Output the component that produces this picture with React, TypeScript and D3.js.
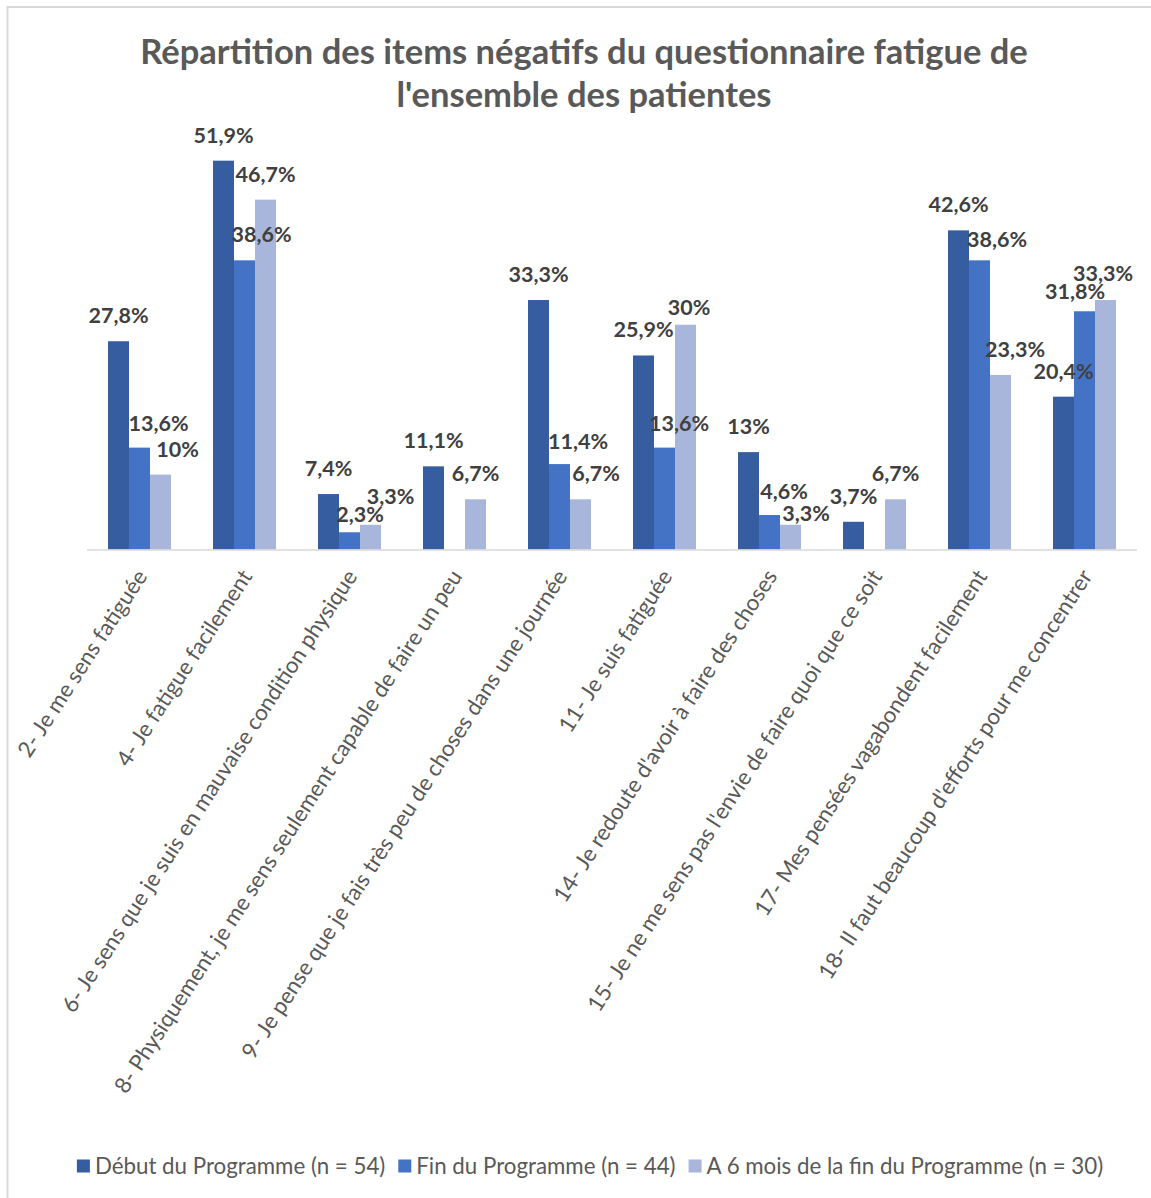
import React, { useEffect, useRef } from "react";
import * as d3 from "d3";

const titleLines = [
  "Répartition des items négatifs du questionnaire fatigue de",
  "l'ensemble des patientes",
];

const categories = [
  "2- Je me sens fatiguée",
  "4- Je fatigue facilement",
  "6- Je sens que je suis en mauvaise condition physique",
  "8- Physiquement, je me sens seulement capable de faire un peu",
  "9- Je pense que je fais très peu de choses dans une journée",
  "11- Je suis fatiguée",
  "14- Je redoute d'avoir à faire des choses",
  "15- Je ne me sens pas l'envie de faire quoi que ce soit",
  "17- Mes pensées vagabondent facilement",
  "18- Il faut beaucoup d'efforts pour me concentrer",
];

const seriesNames = [
  "Début du Programme (n = 54)",
  "Fin du Programme (n = 44)",
  "A 6 mois de la fin du Programme (n = 30)",
];

const debut = [27.8, 51.9, 7.4, 11.1, 33.3, 25.9, 13, 3.7, 42.6, 20.4];
const fin = [13.6, 38.6, 2.3, null, 11.4, 13.6, 4.6, null, 38.6, 31.8];
const sixMois = [10, 46.7, 3.3, 6.7, 6.7, 30, 3.3, 6.7, 23.3, 33.3];

const colors = ["#355DA0", "#4472C4", "#A9B6DB"];

// label nudges (Excel moved some labels to avoid overlaps)
const nudgeX = [
  [0, 0, 0, 0, 0, 0, 0, 0, 0, 0],
  [19, 17, 10.5, 0, 18.5, 14.5, 14.5, 0, 17.5, -9.5],
  [17, 0, 20, 0, 15.5, 3.5, 15.5, 0, 14.5, -2.5],
];
const nudgeY = [
  [0, 0, 0, 0, 0, 0, 0, 0, 0, 0],
  [1, 0, 7.5, 0, 2.5, 1, 1.5, 0, 5, 5.5],
  [0, 0, -2.5, 0, 0, 8, 14, 0, 0, -1],
];

const W = 1151;
const H = 1198;

export default function App() {
  const ref = useRef<SVGSVGElement>(null);

  useEffect(() => {
    const svg = d3.select(ref.current);
    svg.selectAll("*").remove();

    const font = "Lato, 'Open Sans', sans-serif";

    // border
    svg
      .append("rect")
      .attr("x", 7.5)
      .attr("y", 7)
      .attr("width", W + 20)
      .attr("height", H + 20)
      .attr("fill", "#fff")
      .attr("stroke", "#D9D9D9")
      .attr("stroke-width", 2);

    // title
    svg
      .append("g")
      .selectAll("text")
      .data(titleLines)
      .join("text")
      .attr("x", 584)
      .attr("y", (_, i) => 64 + i * 43)
      .attr("text-anchor", "middle")
      .attr("font-family", font)
      .attr("font-weight", "bold")
      .attr("font-size", 34.5)
      .attr("fill", "#595959")
      .text((d) => d);

    const plotLeft = 87;
    const plotRight = 1137;
    const baseY = 549.5;

    const x = d3
      .scaleBand<string>()
      .domain(categories)
      .range([plotLeft, plotRight])
      .paddingInner(0.4)
      .paddingOuter(0.2);

    const x1 = d3
      .scaleBand<number>()
      .domain([0, 1, 2])
      .range([0, x.bandwidth()])
      .padding(0);

    const y = d3.scaleLinear().domain([0, 60]).range([baseY, 100]);

    const allSeries = [debut, fin, sixMois];

    const fmt = (v: number) =>
      (Number.isInteger(v) ? String(v) : v.toFixed(1).replace(".", ",")) + "%";

    type Pt = { s: number; c: number; v: number };
    const pts: Pt[] = [];
    allSeries.forEach((arr, s) =>
      arr.forEach((v, c) => {
        if (v !== null && v !== undefined) pts.push({ s, c, v: v as number });
      })
    );

    // bars
    svg
      .append("g")
      .selectAll("rect")
      .data(pts)
      .join("rect")
      .attr("x", (d) => (x(categories[d.c]) as number) + (x1(d.s) as number))
      .attr("y", (d) => y(d.v))
      .attr("width", x1.bandwidth())
      .attr("height", (d) => baseY - y(d.v))
      .attr("fill", (d) => colors[d.s]);

    // baseline
    svg
      .append("line")
      .attr("x1", plotLeft)
      .attr("x2", plotRight)
      .attr("y1", baseY + 0.5)
      .attr("y2", baseY + 0.5)
      .attr("stroke", "#D9D9D9")
      .attr("stroke-width", 1.5);

    // data labels
    svg
      .append("g")
      .selectAll("text")
      .data(pts)
      .join("text")
      .attr(
        "x",
        (d) =>
          (x(categories[d.c]) as number) +
          (x1(d.s) as number) +
          x1.bandwidth() / 2 +
          nudgeX[d.s][d.c]
      )
      .attr("y", (d) => y(d.v) - 18 + nudgeY[d.s][d.c])
      .attr("text-anchor", "middle")
      .attr("font-family", font)
      .attr("font-weight", "bold")
      .attr("font-size", 21.5)
      .attr("fill", "#404040")
      .text((d) => fmt(d.v));

    // category labels
    svg
      .append("g")
      .selectAll("text")
      .data(categories)
      .join("text")
      .attr(
        "transform",
        (d) => `translate(${(x(d) as number) + x.bandwidth() / 2 + 2},${572}) rotate(-57)`
      )
      .attr("text-anchor", "end")
      .attr("dy", "0.35em")
      .attr("font-family", font)
      .attr("font-size", 22.3)
      .attr("fill", "#595959")
      .text((d) => d);

    // legend
    const lg = svg.append("g");
    const items: { g: any; w: number }[] = [];
    seriesNames.forEach((name, i) => {
      const g = lg.append("g");
      g.append("rect")
        .attr("x", 0)
        .attr("y", -6.5)
        .attr("width", 13)
        .attr("height", 13)
        .attr("fill", colors[i]);
      const t = g
        .append("text")
        .attr("x", 18)
        .attr("y", 0)
        .attr("dy", "0.35em")
        .attr("font-family", font)
        .attr("font-size", 22.3)
        .attr("fill", "#595959")
        .text(name);
      const tw = (t.node() as SVGTextElement).getComputedTextLength();
      items.push({ g, w: 18 + tw });
    });
    const gap = 13;
    const total = items.reduce((a, b) => a + b.w, 0) + gap * (items.length - 1);
    let cx = 590 - total / 2;
    items.forEach((it) => {
      it.g.attr("transform", `translate(${cx},${1166})`);
      cx += it.w + gap;
    });
  }, []);

  return (
    <svg
      ref={ref}
      width={W}
      height={H}
      style={{ position: "absolute", left: 0, top: 0, display: "block", background: "#fff" }}
    />
  );
}
